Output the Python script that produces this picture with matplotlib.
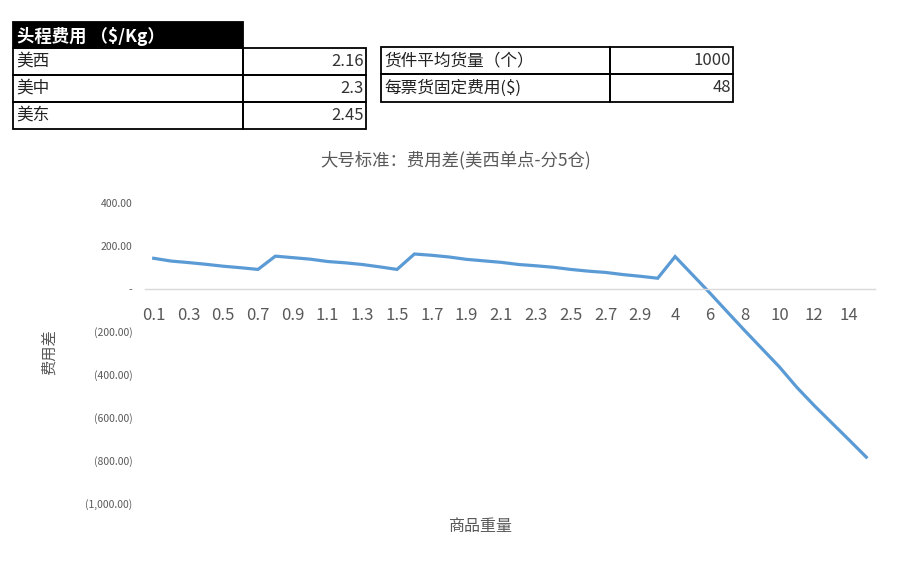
import numpy as np
import matplotlib
matplotlib.use('Agg')
import matplotlib.pyplot as plt
from matplotlib.patches import Rectangle
from matplotlib.ticker import FuncFormatter

plt.rcParams['font.family'] = ['Noto Sans CJK SC', 'DejaVu Sans']

# %% DATA

# chart: weight categories and cost difference
weights = ['0.1', '0.2', '0.3', '0.4', '0.5', '0.6', '0.7', '0.8', '0.9', '1',
           '1.1', '1.2', '1.3', '1.4', '1.5', '1.6', '1.7', '1.8', '1.9', '2',
           '2.1', '2.2', '2.3', '2.4', '2.5', '2.6', '2.7', '2.8', '2.9', '3',
           '4', '5', '6', '7', '8', '9', '10', '11', '12', '13', '14', '15']
cost_diff = [142, 129, 122, 114, 105, 98, 90, 152, 145, 138,
             127, 121, 113, 102, 90, 162, 156, 148, 137, 130,
             123, 113, 107, 100, 90, 82, 76, 66, 58, 49,
             150, 65, -20, -108, -195, -280, -365, -460, -545, -625,
             -705, -786]

# table 1: first-leg cost per region
tbl1_header = '头程费用 （$/Kg）'
tbl1_regions = ['美西', '美中', '美东']
tbl1_values = ['2.16', '2.3', '2.45']

# table 2: parameters
tbl2_names = ['货件平均货量（个）', '每票货固定费用($)']
tbl2_values = ['1000', '48']

title = '大号标准：费用差(美西单点-分5仓)'
xlab = '商品重量'
ylab = '费用差'

# %% FIGURE

W, H = 902, 568
fig = plt.figure(figsize=(W / 100, H / 100), dpi=100)
fig.set_facecolor('w')

# overlay in pixel coordinates for the tables
ov = fig.add_axes([0, 0, 1, 1])
ov.set_xlim(0, W)
ov.set_ylim(H, 0)
ov.axis('off')

def cell(x0, y0, x1, y1, fc='none', lw=1.3):
    ov.add_patch(Rectangle((x0, y0), x1 - x0, y1 - y0, facecolor=fc,
                           edgecolor='k', linewidth=lw))

tsize = 12
# table 1
cell(13, 22, 243, 48, fc='k')
ov.text(17, 36, tbl1_header, color='w', fontsize=12.5, fontweight='bold',
        va='center', ha='left')
row_y = [48, 75, 102, 129]
for i in range(len(tbl1_regions)):
    cell(13, row_y[i], 243, row_y[i + 1])
    cell(243, row_y[i], 366, row_y[i + 1])
    ym = (row_y[i] + row_y[i + 1]) / 2
    ov.text(16, ym, tbl1_regions[i], fontsize=tsize, va='center', ha='left',
            color='#222222')
    ov.text(364, ym, tbl1_values[i], fontsize=tsize, va='center', ha='right',
            color='#333333')

# table 2
row_y2 = [47, 74, 102]
for i in range(len(tbl2_names)):
    cell(381, row_y2[i], 610, row_y2[i + 1])
    cell(610, row_y2[i], 733, row_y2[i + 1])
    ym = (row_y2[i] + row_y2[i + 1]) / 2
    ov.text(384, ym, tbl2_names[i], fontsize=tsize, va='center', ha='left',
            color='#222222')
    ov.text(731, ym, tbl2_values[i], fontsize=tsize, va='center', ha='right',
            color='#333333')

# %% CHART

ax = fig.add_axes([145 / W, 1 - 503 / H, 730 / W, 300 / H])
x = np.arange(len(weights))
ax.plot(x, cost_diff, color='#5B9BD5', linewidth=2.3, solid_joinstyle='miter')

ax.set_xlim(-0.5, len(weights) - 0.5)
ax.set_ylim(-1000, 400)
ax.set_yticks(np.arange(-1000, 401, 200))

def acct(v, pos):
    if abs(v) < 1e-9:
        return '-'
    s = '{:,.2f}'.format(abs(v))
    return '(' + s + ')' if v < 0 else s

ax.yaxis.set_major_formatter(FuncFormatter(acct))
ax.set_xticks(x[::2])
ax.set_xticklabels(weights[::2])

for s in ['top', 'right', 'left']:
    ax.spines[s].set_visible(False)
ax.spines['bottom'].set_position(('data', 0))
ax.spines['bottom'].set_color('#d9d9d9')
ax.spines['bottom'].set_linewidth(1.0)

ax.tick_params(axis='x', length=0, pad=13, labelsize=12, colors='#595959')
ax.tick_params(axis='y', length=0, pad=9, labelsize=7.5, colors='#595959')
ax.set_facecolor('none')

ax.set_xlabel(xlab, fontsize=11.5, color='#595959')
ax.xaxis.set_label_coords((480 - 145) / 730, (503 - 518) / 300)
ax.set_ylabel(ylab, fontsize=11, color='#595959')
ax.yaxis.set_label_coords((58 - 145) / 730, (503 - 352) / 300)

fig.text(456 / W, 1 - 160 / H, title, fontsize=12.5, color='#595959',
         ha='center', va='center')

fig.savefig('out.png', dpi=100)
